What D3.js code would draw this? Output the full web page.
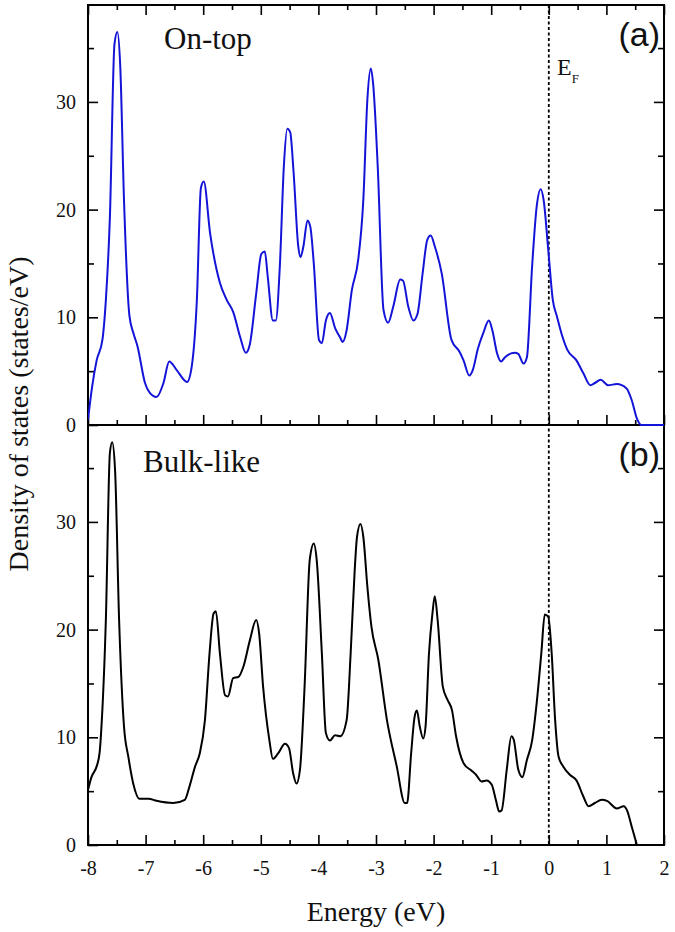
<!DOCTYPE html>
<html>
<head>
<meta charset="utf-8">
<script src="https://cdn.jsdelivr.net/npm/d3@7"></script>
<style>
  html, body { margin: 0; padding: 0; background: #fff; }
  svg { display: block; }
</style>
</head>
<body>
<svg id="chart" width="675" height="932"></svg>
<script>
// ---- Data ----
const energyA = [-8.0,-7.93,-7.85,-7.75,-7.69,-7.62,-7.54,-7.49,-7.44,-7.375,-7.28,-7.21,-7.14,-7.01,-6.93,-6.81,-6.69,-6.59,-6.46,-6.28,-6.2,-6.11,-6.04,-5.99,-5.88,-5.71,-5.59,-5.48,-5.36,-5.26,-5.19,-5.08,-4.99,-4.93,-4.88,-4.79,-4.74,-4.67,-4.6,-4.54,-4.49,-4.43,-4.35,-4.31,-4.26,-4.19,-4.14,-4.08,-3.99,-3.94,-3.87,-3.80,-3.71,-3.62,-3.58,-3.51,-3.42,-3.31,-3.22,-3.15,-3.09,-3.05,-2.97,-2.87,-2.79,-2.70,-2.58,-2.53,-2.44,-2.35,-2.28,-2.19,-2.11,-2.05,-1.98,-1.86,-1.69,-1.55,-1.48,-1.38,-1.32,-1.23,-1.14,-1.04,-0.98,-0.90,-0.83,-0.76,-0.59,-0.53,-0.44,-0.38,-0.29,-0.21,-0.14,-0.09,-0.01,0.07,0.14,0.22,0.32,0.48,0.60,0.72,0.80,0.90,1.03,1.18,1.35,1.44,1.53,1.61,2.0];
const dosOnTop = [0.5,3.5,6.0,7.9,11.6,19.3,35.4,36.5,33.3,20.9,10.1,8.5,7.3,3.9,3.0,2.6,3.9,5.9,5.1,4.0,5.4,11.6,22.0,22.6,17.8,13.2,11.6,10.5,8.2,6.7,7.5,12.2,15.9,16.1,13.8,9.7,9.7,14.7,24.0,27.5,27.2,23.4,16.6,15.6,16.6,19.0,18.4,15.0,7.9,7.6,9.7,10.4,9.0,8.1,7.7,8.8,12.5,15.3,20.9,30.2,33.1,31.7,24.0,10.7,9.5,11.0,13.5,13.4,11.0,9.7,10.3,14.1,17.2,17.6,16.6,14.1,7.9,6.8,6.0,4.6,5.1,7.1,8.5,9.7,8.8,6.7,5.9,6.3,6.7,6.6,5.7,6.3,14.7,20.3,21.9,20.9,16.3,11.6,10.1,8.5,7.0,6.0,4.8,3.7,3.9,4.2,3.7,3.8,3.4,2.3,0.6,0,0];

const energyB = [-8.0,-7.94,-7.85,-7.80,-7.76,-7.69,-7.62,-7.58,-7.53,-7.46,-7.375,-7.30,-7.21,-7.11,-6.95,-6.81,-6.52,-6.32,-6.24,-6.14,-6.06,-5.97,-5.89,-5.82,-5.78,-5.71,-5.62,-5.57,-5.48,-5.39,-5.30,-5.19,-5.08,-5.03,-4.96,-4.85,-4.79,-4.70,-4.58,-4.51,-4.44,-4.38,-4.32,-4.24,-4.15,-4.08,-4.03,-3.94,-3.87,-3.80,-3.71,-3.62,-3.51,-3.44,-3.37,-3.33,-3.27,-3.22,-3.15,-3.08,-2.96,-2.81,-2.64,-2.50,-2.46,-2.39,-2.33,-2.29,-2.24,-2.18,-2.14,-2.08,-2.02,-1.98,-1.93,-1.84,-1.76,-1.68,-1.61,-1.48,-1.34,-1.26,-1.17,-1.08,-0.99,-0.92,-0.86,-0.82,-0.73,-0.65,-0.61,-0.53,-0.46,-0.38,-0.29,-0.21,-0.13,-0.07,-0.01,0.05,0.11,0.17,0.25,0.37,0.48,0.60,0.69,0.80,0.92,1.01,1.18,1.30,1.36,1.44,1.53];
const dosBulk = [5.1,6.3,7.3,8.5,11.6,20.9,36.4,37.4,34.8,20.9,11.0,8.2,5.6,4.3,4.3,4.1,3.9,4.2,5.4,7.3,8.5,11.6,17.8,21.5,21.7,17.8,13.9,13.8,15.5,15.6,16.6,19.0,20.9,19.7,14.7,9.7,8.0,8.5,9.4,9.0,6.7,5.7,7.0,14.7,26.5,28.0,26.5,17.8,10.4,9.7,10.2,10.1,11.6,17.8,25.5,28.6,29.8,28.6,24.0,20.3,17.2,11.6,7.3,3.9,3.9,8.5,11.9,12.5,11.0,9.9,11.0,17.8,21.5,23.1,20.9,14.7,13.5,12.5,10.1,7.6,6.9,6.5,5.9,6.0,5.6,4.2,3.1,3.2,7.0,10.1,9.8,7.0,6.3,7.9,9.7,13.2,17.8,21.4,21.2,17.8,11.6,8.2,7.3,6.5,6.0,4.5,3.6,3.9,4.2,4.1,3.4,3.6,3.2,1.7,0];

const xMajorTicks = [-8,-7,-6,-5,-4,-3,-2,-1,0,1,2];
const xMinorTicks = [-7.5,-6.5,-5.5,-4.5,-3.5,-2.5,-1.5,-0.5,0.5,1.5];
const yMajorTicks = [0,10,20,30];
const yMinorTicks = [5,15,25,35];
const xDomain = [-8, 2];
const yDomain = [0, 39];
const panelLabels = ["(a)", "(b)"];
const panelNames = ["On-top", "Bulk-like"];

// ---- Layout ----
const svg = d3.select("#chart");
const L = 88, R = 664;
const panels = [
  {top: 5, bottom: 425, energy: energyA, dos: dosOnTop, color: "#1414d8", name: panelNames[0], tag: panelLabels[0], nameX: 164, nameY: 49, tagY: 46, showXLabels: false},
  {top: 425, bottom: 845, energy: energyB, dos: dosBulk, color: "#000000", name: panelNames[1], tag: panelLabels[1], nameX: 143, nameY: 472, tagY: 466, showXLabels: true}
];
const x = d3.scaleLinear().domain(xDomain).range([L, R]);
const serif = "'Liberation Serif','Times New Roman',serif";
const sans = "'Liberation Sans',Arial,sans-serif";
const plainFmt = d => String(d);  // hyphen-minus like the reference

function styleAxis(g, fontSize) {
  g.select(".domain").remove();
  g.selectAll(".tick line").attr("stroke", "#000").attr("stroke-width", 1.6);
  g.selectAll(".tick text").attr("font-family", serif).attr("font-size", fontSize).attr("fill", "#111");
}

const curveLayer = [];
panels.forEach((p, i) => {
  const y = d3.scaleLinear().domain(yDomain).range([p.bottom, p.top]);

  // left axis
  svg.append("g").attr("transform", `translate(${L},0)`)
    .call(d3.axisLeft(y).tickValues(yMajorTicks).tickSize(-10).tickPadding(12).tickFormat(plainFmt))
    .call(g => styleAxis(g, 20));
  svg.append("g").attr("transform", `translate(${L},0)`)
    .call(d3.axisLeft(y).tickValues(yMinorTicks).tickSize(-6).tickFormat(""))
    .call(g => styleAxis(g, 20));
  // right axis
  svg.append("g").attr("transform", `translate(${R},0)`)
    .call(d3.axisRight(y).tickValues(yMajorTicks.filter(v => v > 0)).tickSize(-10).tickFormat(""))
    .call(g => styleAxis(g, 20));
  svg.append("g").attr("transform", `translate(${R},0)`)
    .call(d3.axisRight(y).tickValues(yMinorTicks).tickSize(-6).tickFormat(""))
    .call(g => styleAxis(g, 20));

  // top ticks only for panel (a)
  if (i === 0) {
    svg.append("g").attr("transform", `translate(0,${p.top})`)
      .call(d3.axisTop(x).tickValues(xMajorTicks).tickSize(-10).tickFormat(""))
      .call(g => styleAxis(g, 20));
    svg.append("g").attr("transform", `translate(0,${p.top})`)
      .call(d3.axisTop(x).tickValues(xMinorTicks).tickSize(-5).tickFormat(""))
      .call(g => styleAxis(g, 20));
  }
  // bottom ticks
  svg.append("g").attr("transform", `translate(0,${p.bottom})`)
    .call(d3.axisBottom(x).tickValues(xMajorTicks).tickSize(-10).tickPadding(16)
      .tickFormat(p.showXLabels ? plainFmt : ""))
    .call(g => styleAxis(g, 20));
  svg.append("g").attr("transform", `translate(0,${p.bottom})`)
    .call(d3.axisBottom(x).tickValues(xMinorTicks).tickSize(-5).tickFormat(""))
    .call(g => styleAxis(g, 20));

  // frame
  svg.append("rect").attr("x", L).attr("y", p.top).attr("width", R - L).attr("height", p.bottom - p.top)
    .attr("fill", "none").attr("stroke", "#000").attr("stroke-width", 2);

  // panel name and tag
  svg.append("text").attr("x", p.nameX).attr("y", p.nameY)
    .attr("font-family", serif).attr("font-size", 31).attr("fill", "#111").text(p.name);
  svg.append("text").attr("x", 660).attr("y", p.tagY).attr("text-anchor", "end")
    .attr("font-family", sans).attr("font-size", 34).attr("fill", "#111").text(p.tag);

  curveLayer.push({p, y, i});
});

// Fermi level dashed line
svg.append("line")
  .attr("x1", x(0)).attr("x2", x(0)).attr("y1", panels[0].top).attr("y2", panels[1].bottom)
  .attr("stroke", "#000").attr("stroke-width", 1.8).attr("stroke-dasharray", "3,2.5");

// curves drawn on top of the frames
curveLayer.forEach(({p, y, i}) => {
  const clipId = "clip" + i;
  svg.append("clipPath").attr("id", clipId)
    .append("rect").attr("x", L).attr("y", p.top - 1).attr("width", R - L).attr("height", p.bottom - p.top + 2);
  const data = p.energy.map((e, k) => [e, p.dos[k]]);
  const line = d3.line().x(d => x(d[0])).y(d => y(d[1])).curve(d3.curveMonotoneX);
  svg.append("path").datum(data)
    .attr("clip-path", `url(#${clipId})`)
    .attr("fill", "none").attr("stroke", p.color).attr("stroke-width", 2)
    .attr("stroke-linejoin", "round")
    .attr("d", line);
});

// E_F label
const ef = svg.append("text").attr("x", 557).attr("y", 75)
  .attr("font-family", serif).attr("font-size", 24).attr("fill", "#111");
ef.append("tspan").text("E");
ef.append("tspan").attr("dy", 8).attr("font-size", 13).text("F");

// Axis titles
svg.append("text").attr("x", 376).attr("y", 921).attr("text-anchor", "middle")
  .attr("font-family", serif).attr("font-size", 28).attr("fill", "#111").text("Energy (eV)");
svg.append("text").attr("transform", "translate(28,414) rotate(-90)").attr("text-anchor", "middle")
  .attr("font-family", serif).attr("font-size", 28).attr("fill", "#111").text("Density of states (states/eV)");
</script>
</body>
</html>
